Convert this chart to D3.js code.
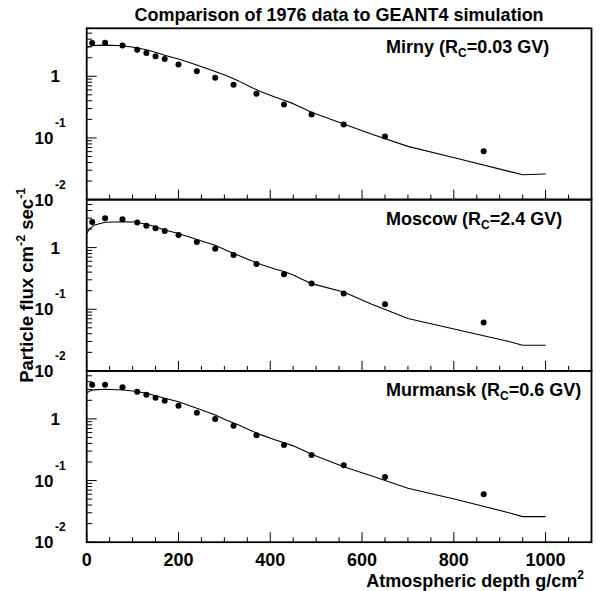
<!DOCTYPE html>
<html>
<head>
<meta charset="utf-8">
<script src="https://cdn.jsdelivr.net/npm/d3@7"></script>
<style>
  body { margin: 0; background: #fff; }
  svg text { font-family: "Liberation Sans", Arial, Helvetica, sans-serif; font-weight: bold; fill: #000; }
</style>
</head>
<body>
<svg id="chart" width="606" height="591"></svg>
<script>
// 1976 measurements: depth in g/cm^2
const dataDepth = [12, 40, 78, 110, 130, 150, 170, 200, 240, 280, 320, 370, 430, 490, 560, 650, 865];
const mirnyData    = [3.45, 3.49, 3.16, 2.69, 2.38, 2.12, 1.90, 1.55, 1.21, 0.946, 0.728, 0.52, 0.349, 0.240, 0.165, 0.106, 0.061];
const moscowData   = [2.60, 2.98, 2.88, 2.54, 2.27, 2.06, 1.86, 1.60, 1.23, 0.96, 0.76, 0.54, 0.369, 0.261, 0.18, 0.12, 0.061];
const murmanskData = [3.58, 3.58, 3.25, 2.76, 2.47, 2.21, 1.97, 1.64, 1.26, 1.0, 0.776, 0.542, 0.378, 0.26, 0.177, 0.114, 0.060];

// GEANT4 simulation curves
const simDepth = [0, 5, 15, 40, 80, 105, 130, 150, 170, 200, 240, 280, 305, 330, 355, 380, 410, 430, 450, 490, 560, 620, 700, 810, 920, 950, 1000];
const mirnySim    = [2.9, 3.05, 3.15, 3.2, 3.12, 2.93, 2.69, 2.45, 2.2, 1.9, 1.52, 1.2, 1.02, 0.85, 0.68, 0.56, 0.46, 0.41, 0.36, 0.26, 0.168, 0.116, 0.073, 0.046, 0.0287, 0.0253, 0.026];
const moscowSim   = [1.69, 1.95, 2.3, 2.57, 2.63, 2.6, 2.39, 2.17, 1.93, 1.69, 1.35, 1.09, 0.9, 0.75, 0.63, 0.53, 0.45, 0.41, 0.36, 0.26, 0.19, 0.122, 0.071, 0.046, 0.030, 0.026, 0.026];
const murmanskSim = [2.6, 2.8, 2.95, 3.02, 2.94, 2.8, 2.6, 2.38, 2.16, 1.9, 1.49, 1.16, 0.95, 0.8, 0.66, 0.55, 0.46, 0.41, 0.365, 0.267, 0.168, 0.12, 0.075, 0.0485, 0.030, 0.026, 0.026];

const stations = ["Mirny", "Moscow", "Murmansk"];
const cutoffs = ["0.03", "2.4", "0.6"];
const xTickLabels = [0, 200, 400, 600, 800, 1000];

const svg = d3.select("#chart");
const left = 86.7, right = 591.5, top0 = 28.3, panelH = 171.3;

const x = d3.scaleLinear().domain([0, 1100]).range([left, right]);

svg.append("text")
    .attr("x", (left + right) / 2).attr("y", 20.5)
    .attr("text-anchor", "middle").attr("font-size", 18)
    .text("Comparison of 1976 data to GEANT4 simulation");

let panels = [
    { data: mirnyData, sim: mirnySim },
    { data: moscowData, sim: moscowSim },
    { data: murmanskData, sim: murmanskSim }
];

panels.forEach((p, i) => {
    let yTop = top0 + i * panelH;
    let y = d3.scaleLog().domain([0.01, 6]).range([yTop + panelH, yTop]);
    let g = svg.append("g").attr("class", `panel panel-${i}`);

    // y ticks, inward
    y.ticks().forEach(t => {
        let major = Math.abs(Math.log10(t) - Math.round(Math.log10(t))) < 1e-6;
        g.append("line")
            .attr("x1", left).attr("x2", left + (major ? 10 : 5.5))
            .attr("y1", y(t)).attr("y2", y(t))
            .attr("stroke", "#000").attr("stroke-width", 1);
    });
    // y labels: 1, 10^-1, 10^-2
    [1, 0.1, 0.01].forEach(t => {
        let e = Math.round(Math.log10(t));
        if (e === 0) {
            g.append("text").attr("x", 60).attr("y", y(t) + 6)
                .attr("text-anchor", "end").attr("font-size", 17).text("1");
        } else {
            g.append("text").attr("x", 53.5).attr("y", y(t) + 6)
                .attr("text-anchor", "end").attr("font-size", 17).text("10");
            g.append("text").attr("x", 55).attr("y", y(t) - 11)
                .attr("font-size", 12).text(String(e));
        }
    });

    // x ticks, inward
    d3.range(0, 1101, 50).forEach(t => {
        let major = t % 200 === 0;
        g.append("line")
            .attr("x1", x(t)).attr("x2", x(t))
            .attr("y1", yTop + panelH).attr("y2", yTop + panelH - (major ? 10 : 5))
            .attr("stroke", "#000").attr("stroke-width", 1);
    });

    // simulation line
    let line = d3.line().x((d, k) => x(simDepth[k])).y(d => y(d));
    g.append("path")
        .attr("d", line(p.sim))
        .attr("fill", "none").attr("stroke", "#000").attr("stroke-width", 1.1)
        .attr("stroke-linejoin", "round");

    // data points
    g.selectAll("circle")
        .data(p.data)
        .enter()
        .append("circle")
            .attr("cx", (d, k) => x(dataDepth[k]))
            .attr("cy", d => y(d))
            .attr("r", 3)
            .attr("fill", "#000");

    // station label
    let lab = g.append("text").attr("x", 386).attr("y", yTop + 25).attr("font-size", 18);
    lab.append("tspan").text(`${stations[i]} (R`);
    lab.append("tspan").attr("font-size", 12).attr("dy", 4).text("C");
    lab.append("tspan").attr("dy", -4).text(`=${cutoffs[i]} GV)`);

    // frame
    g.append("rect")
        .attr("x", left).attr("y", yTop)
        .attr("width", right - left).attr("height", panelH)
        .attr("fill", "none").attr("stroke", "#000").attr("stroke-width", 1.8);
});

// x labels on bottom panel
let yBottom = top0 + 3 * panelH;
xTickLabels.forEach(t => {
    svg.append("text")
        .attr("x", x(t)).attr("y", yBottom + 24)
        .attr("text-anchor", "middle").attr("font-size", 18)
        .text(t);
});

let xt = svg.append("text").attr("x", 584).attr("y", 587)
    .attr("text-anchor", "end").attr("font-size", 18);
xt.append("tspan").text("Atmospheric depth g/cm");
xt.append("tspan").attr("font-size", 12).attr("dy", -8).text("2");

let yt = svg.append("text")
    .attr("transform", `translate(33,${(top0 + yBottom) / 2}) rotate(-90)`)
    .attr("text-anchor", "middle").attr("font-size", 18.5);
yt.append("tspan").text("Particle flux cm");
yt.append("tspan").attr("font-size", 12.5).attr("dy", -8).text("-2");
yt.append("tspan").attr("dy", 8).text(" sec");
yt.append("tspan").attr("font-size", 12.5).attr("dy", -8).text("-1");
</script>
</body>
</html>
